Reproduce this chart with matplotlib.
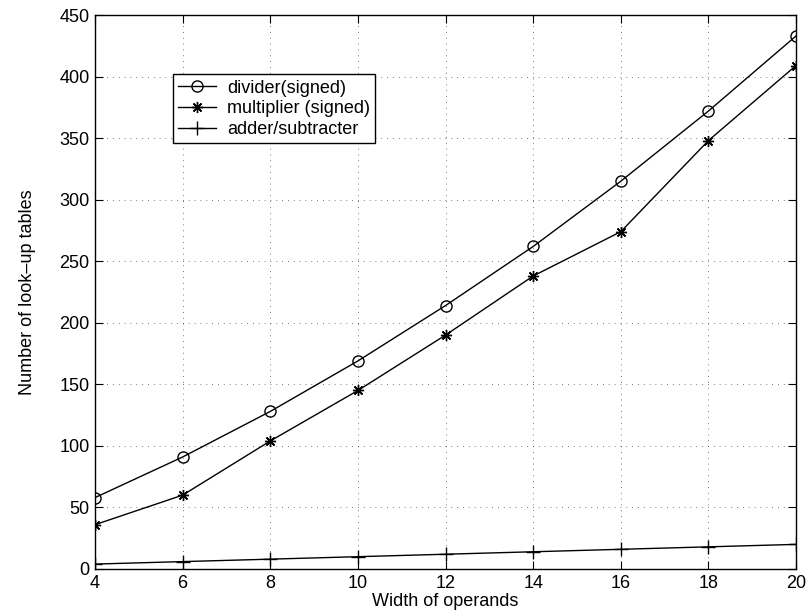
import matplotlib.pyplot as plt

plt.rcParams['font.family'] = ['Liberation Sans', 'DejaVu Sans']
plt.rcParams['font.size'] = 13

# operand widths and look-up table counts
widths = [4, 6, 8, 10, 12, 14, 16, 18, 20]
divider = [58, 91, 128, 169, 214, 262, 315, 372, 433]
multiplier = [36, 60, 104, 145, 190, 238, 274, 348, 409]
adder = [4, 6, 8, 10, 12, 14, 16, 18, 20]

fig = plt.figure(figsize=(8.08, 6.16), dpi=100)
ax = fig.add_axes([0.1176, 0.0763, 0.8676, 0.8993])

ax.plot(widths, divider, color='k', lw=1.0, marker='o', ms=8,
        mfc='none', mec='k', mew=1.0, label='divider(signed)')
ax.plot(widths, multiplier, color='k', lw=1.0, marker=(8, 2, 0), ms=8,
        mec='k', mew=1.0, label='multiplier (signed)')
ax.plot(widths, adder, color='k', lw=1.0, marker='+', ms=10,
        mec='k', mew=1.0, label='adder/subtracter')

ax.set_xlim(4, 20)
ax.set_ylim(0, 450)
ax.set_xticks(widths)
ax.set_yticks(range(0, 451, 50))
ax.grid(True, linestyle=(0, (1, 6)), color='k', lw=0.6, alpha=0.7)
ax.tick_params(direction='in', top=True, right=True, length=6, width=0.8,
               labelsize=13, pad=4)
for s in ax.spines.values():
    s.set_linewidth(1.0)

ax.set_xlabel('Width of operands', labelpad=1)
ax.set_ylabel('Number of look\u2013up tables', labelpad=17)

leg = ax.legend(loc='upper left', bbox_to_anchor=(0.111, 0.893),
                fancybox=False, edgecolor='k', framealpha=1,
                handlelength=2.1, borderaxespad=0, labelspacing=0.2,
                handletextpad=0.6, borderpad=0.3, fontsize=13)
leg.get_frame().set_linewidth(1.0)

fig.savefig('out.png', dpi=100)
